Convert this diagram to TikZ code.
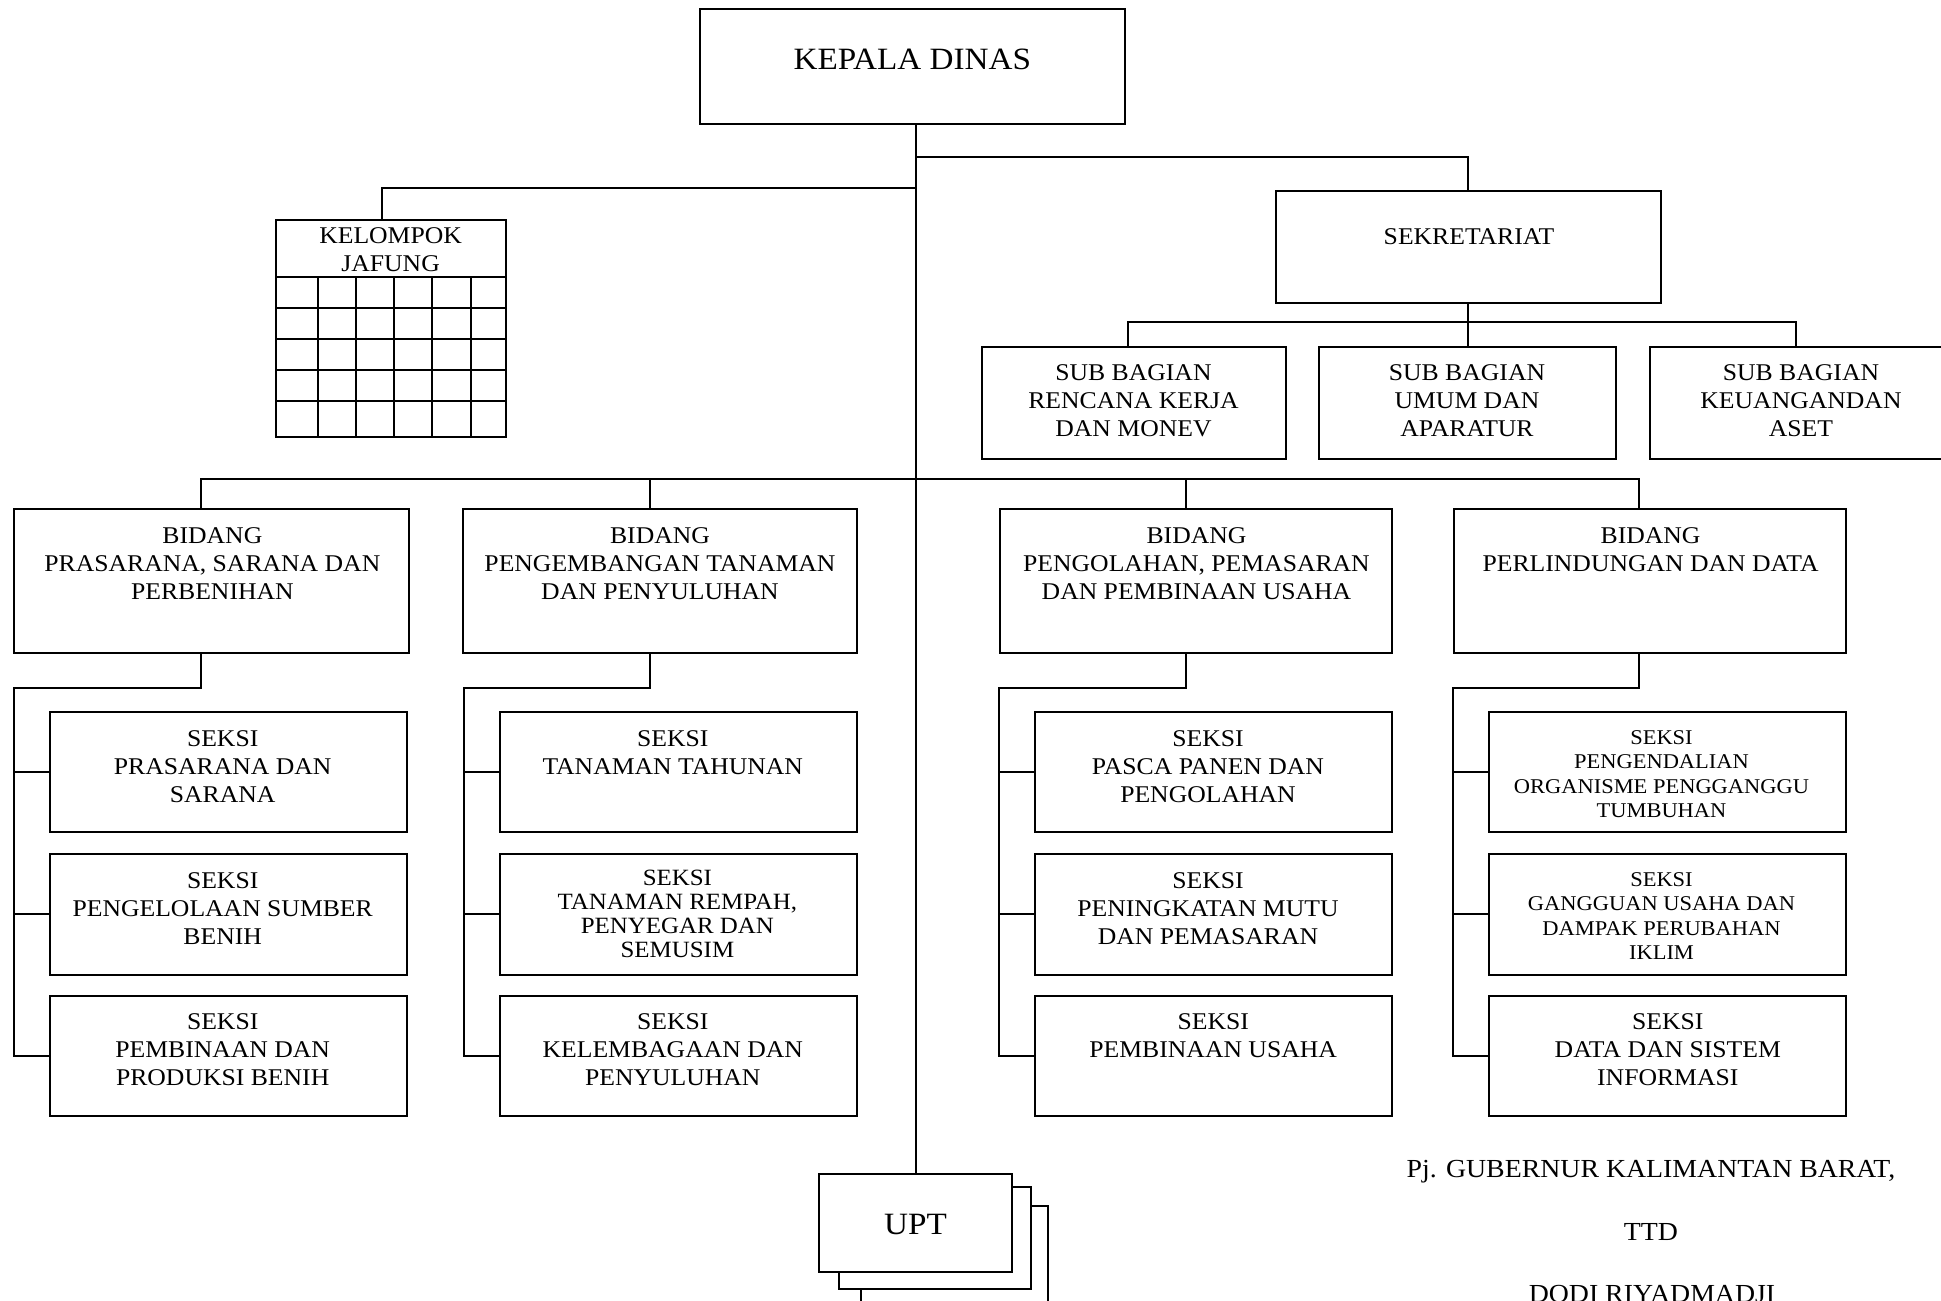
\documentclass[tikz,border=0pt]{standalone}
\usepackage{fontspec}
\setmainfont{Liberation Serif}[FakeStretch=1.07]
\newcommand\myfs[2]{\fontsize{#1}{#2}\selectfont}
\newcommand\obox[5]{\node[bx, minimum width={#4-#2}, minimum height={#5-#3}] (#1) at ({(#2+#4)/2},{(#3+#5)/2}) {};}
\begin{document}
\begin{tikzpicture}[x=1pt,y=-1pt,
  bx/.style={draw, line width=2pt, fill=white, inner sep=0pt, outer sep=0pt},
  ln/.style={line width=2pt},
  tx/.style={anchor=north, align=center, inner sep=0pt, font=\myfs{24}{28}}]
\useasboundingbox (0,0) rectangle (1941,1301);
\clip (0,0) rectangle (1941,1301);
\fill[white] (0,0) rectangle (1941,1301);

% boxes
\obox{kd}{699.6}{8.5}{1125}{124}
\obox{jf}{275.5}{219.7}{505.7}{436.7}
\obox{sek}{1276}{191}{1660.5}{303}
\obox{sb1}{982}{347}{1285.6}{458.6}
\obox{sb2}{1318.5}{347}{1615.5}{458.6}
\obox{sb3}{1650}{347}{1952}{458.6}
\obox{b1}{13.8}{509}{408.7}{652.8}
\obox{b2}{462.7}{509}{857}{652.8}
\obox{b3}{999.6}{509}{1391.7}{652.8}
\obox{b4}{1453.7}{509}{1845.8}{652.8}
% seksi
\obox{s11}{50}{712.3}{407}{831.5}
\obox{s12}{50}{853.5}{407}{974.5}
\obox{s13}{50}{995.5}{407}{1116}
\obox{s21}{500}{712.3}{857}{831.5}
\obox{s22}{500}{853.5}{857}{974.5}
\obox{s23}{500}{995.5}{857}{1116}
\obox{s31}{1034.6}{712.3}{1391.7}{831.5}
\obox{s32}{1034.6}{853.5}{1391.7}{974.5}
\obox{s33}{1034.6}{995.5}{1391.7}{1116}
\obox{s41}{1488.7}{712.3}{1845.8}{831.5}
\obox{s42}{1488.7}{853.5}{1845.8}{974.5}
\obox{s43}{1488.7}{995.5}{1845.8}{1116}
% UPT stack
\obox{u3}{861}{1206}{1048}{1304}
\obox{u2}{838.7}{1186.7}{1031}{1288.7}
\obox{upt}{819.3}{1174}{1011.7}{1271.7}

% jafung grid
\draw[ln] (jf.west |- 0,277.3) -- (jf.east |- 0,277.3);
\foreach \yy in {308.3,339,370,401} \draw[ln] (jf.west |- 0,\yy) -- (jf.east |- 0,\yy);
\foreach \xx in {317.6,355.9,394,432.4,470.7} \draw[ln] (\xx,277.3) -- (jf.south -| \xx,0);

% connectors
\draw[ln] (kd.south -| upt.north) -- (upt.north);
\draw[ln] (upt.north |- 0,157.3) -| (sek.north);
\draw[ln] (upt.north |- 0,188.3) -| (jf.north -| 382,0);
\draw[ln] (sek.south) -- (sek.south |- sb2.north);
\draw[ln] (sb1.north -| 1127.6,0) -- (1127.6,322.3) -- (1795.7,322.3) -- (sb3.north -| 1795.7,0);
\draw[ln] (b1.north -| 201,0) -- (201,479) -- (1639,479) -- (b4.north -| 1639,0);
\draw[ln] (b2.north -| 650.4,0) -- (650.4,479);
\draw[ln] (b3.north -| 1185.6,0) -- (1185.6,479);
% group brackets
\draw[ln] (b1.south -| 201,0) -- (201,687.8) -- (13.8,687.8) |- (s13.west);
\draw[ln] (s11.west) -- (s11.west -| 13.8,0);
\draw[ln] (s12.west) -- (s12.west -| 13.8,0);
\draw[ln] (b2.south -| 650.4,0) -- (650.4,687.8) -- (463.8,687.8) |- (s23.west);
\draw[ln] (s21.west) -- (s21.west -| 463.8,0);
\draw[ln] (s22.west) -- (s22.west -| 463.8,0);
\draw[ln] (b3.south -| 1185.6,0) -- (1185.6,687.8) -- (999,687.8) |- (s33.west);
\draw[ln] (s31.west) -- (s31.west -| 999,0);
\draw[ln] (s32.west) -- (s32.west -| 999,0);
\draw[ln] (b4.south -| 1639,0) -- (1639,687.8) -- (1453,687.8) |- (s43.west);
\draw[ln] (s41.west) -- (s41.west -| 1453,0);
\draw[ln] (s42.west) -- (s42.west -| 1453,0);

% texts
\node[tx, font=\myfs{31}{36}] (kdT) at (912.3,48.7) {KEPALA DINAS};
\node[tx] (jfT) at (390.6,227.7) {KELOMPOK\\JAFUNG};
\node[tx] (sekT) at (1469,228) {SEKRETARIAT};
\node[tx] (sb1T) at (1133.5,364.3) {SUB BAGIAN\\RENCANA KERJA\\DAN MONEV};
\node[tx] (sb2T) at (1467,364.3) {SUB BAGIAN\\UMUM DAN\\APARATUR};
\node[tx] (sb3T) at (1801,364.3) {SUB BAGIAN\\KEUANGANDAN\\ASET};
\node[tx] (b1T) at (212.4,527) {BIDANG\\PRASARANA, SARANA DAN\\PERBENIHAN};
\node[tx] (b2T) at (660,527) {BIDANG\\PENGEMBANGAN TANAMAN\\DAN PENYULUHAN};
\node[tx] (b3T) at (1196.5,527) {BIDANG\\PENGOLAHAN, PEMASARAN\\DAN PEMBINAAN USAHA};
\node[tx] (b4T) at (1650.6,527) {BIDANG\\PERLINDUNGAN DAN DATA};
\node[tx] (s11T) at (222.7,730) {SEKSI\\PRASARANA DAN\\SARANA};
\node[tx] (s12T) at (222.7,872) {SEKSI\\PENGELOLAAN SUMBER\\BENIH};
\node[tx] (s13T) at (222.7,1013.6) {SEKSI\\PEMBINAAN DAN\\PRODUKSI BENIH};
\node[tx] (s21T) at (672.8,730) {SEKSI\\TANAMAN TAHUNAN};
\node[tx, font=\myfs{23.3}{24}] (s22T) at (677.4,870) {SEKSI\\TANAMAN REMPAH,\\PENYEGAR DAN\\SEMUSIM};
\node[tx] (s23T) at (672.8,1013.6) {SEKSI\\KELEMBAGAAN DAN\\PENYULUHAN};
\node[tx] (s31T) at (1208,730) {SEKSI\\PASCA PANEN DAN\\PENGOLAHAN};
\node[tx] (s32T) at (1208,872) {SEKSI\\PENINGKATAN MUTU\\DAN PEMASARAN};
\node[tx] (s33T) at (1213.2,1013.6) {SEKSI\\PEMBINAAN USAHA};
\node[tx, font=\myfs{21}{24.5}] (s41T) at (1661.5,730.3) {SEKSI\\PENGENDALIAN\\ORGANISME PENGGANGGU\\TUMBUHAN};
\node[tx, font=\myfs{21}{24.5}] (s42T) at (1661.5,872) {SEKSI\\GANGGUAN USAHA DAN\\DAMPAK PERUBAHAN\\IKLIM};
\node[tx] (s43T) at (1667.8,1013.6) {SEKSI\\DATA DAN SISTEM\\INFORMASI};
\node[tx, font=\myfs{31}{36}] (uptT) at (915.5,1214) {UPT};
\node[tx, font=\myfs{26}{30}] (sig1) at (1651,1159.7) {Pj. GUBERNUR KALIMANTAN BARAT,};
\node[tx, font=\myfs{26}{30}] (sig2) at (1651,1223) {TTD};
\node[tx, font=\myfs{26}{30}] (sig3) at (1652,1284.7) {DODI RIYADMADJI};
\end{tikzpicture}
\end{document}
